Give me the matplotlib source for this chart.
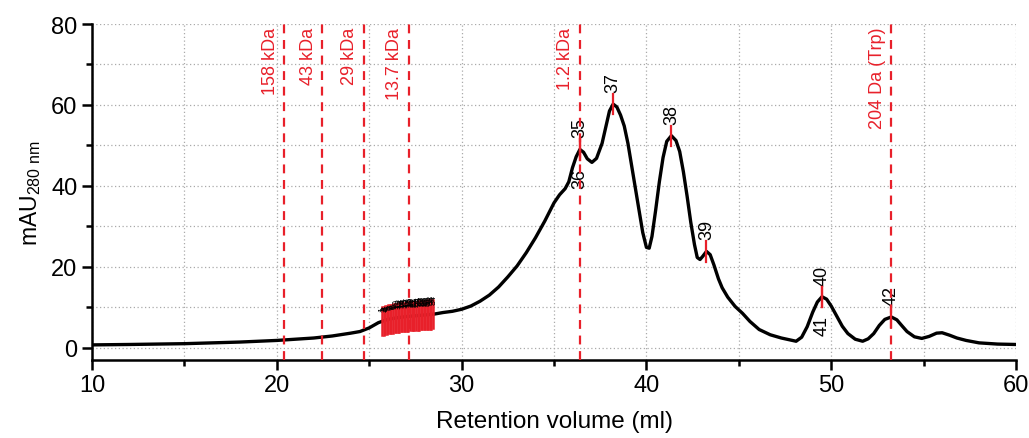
import numpy as np
import matplotlib
matplotlib.use('Agg')
import matplotlib.pyplot as plt
from matplotlib.ticker import MultipleLocator

plt.rcParams['font.family'] = ['Liberation Sans', 'DejaVu Sans']

# Cromatograma (volumen de retencion, absorbancia)
volumen = [10, 12, 15, 18, 20, 22, 23, 24, 24.5, 25, 25.5, 26, 26.5, 27, 27.5, 28, 28.5, 29, 29.5,
           30, 30.5, 31, 31.5, 32, 32.5, 33, 33.5, 34, 34.5, 35, 35.3, 35.6, 35.8, 36.0, 36.2, 36.4,
           36.6, 36.8, 37.05, 37.3, 37.6, 37.8, 38.0, 38.2, 38.4, 38.6, 38.8, 39.0, 39.2, 39.4, 39.6,
           39.8, 40.0, 40.15, 40.3, 40.5, 40.7, 40.9, 41.1, 41.35, 41.6, 41.8, 42.0, 42.2, 42.4, 42.6,
           42.75, 42.9, 43.05, 43.25, 43.45, 43.65, 43.9, 44.1, 44.4, 44.8, 45.2, 45.6, 46.1, 46.7,
           47.3, 47.8, 48.1, 48.4, 48.7, 49.0, 49.25, 49.5, 49.75, 50.0, 50.3, 50.6, 50.9, 51.3, 51.7,
           52.0, 52.3, 52.6, 52.9, 53.25, 53.55, 53.85, 54.1, 54.5, 54.9, 55.3, 55.7, 56.0, 56.4,
           56.8, 57.3, 58, 59, 60]
absorbancia = [0.7, 0.8, 1.0, 1.4, 1.8, 2.4, 2.9, 3.6, 4.0, 4.9, 6.2, 7.0, 7.4, 7.7, 7.9, 8.1, 8.3,
               8.7, 9.0, 9.5, 10.3, 11.5, 13.0, 15.0, 17.5, 20.2, 23.5, 27.2, 31.3, 35.8, 37.8, 39.3,
               41.0, 44.5, 47.2, 49.0, 48.3, 46.7, 45.8, 46.8, 50.5, 54.5, 58.5, 60.2, 59.5, 57.5,
               54.8, 50.5, 45.0, 39.5, 34.0, 28.5, 24.8, 24.6, 27.5, 34.0, 41.0, 47.0, 51.0, 52.4,
               51.2, 48.5, 43.5, 37.5, 31.0, 25.5, 22.3, 21.8, 22.6, 23.8, 23.0, 20.5, 17.0, 14.8,
               12.5, 10.2, 8.5, 6.5, 4.5, 3.2, 2.4, 1.9, 1.6, 2.6, 5.2, 8.8, 11.3, 12.6, 12.0, 10.3,
               7.8, 5.3, 3.5, 2.1, 1.6, 2.2, 3.5, 5.5, 7.0, 7.6, 6.9, 5.3, 4.0, 2.7, 2.3, 2.8, 3.6,
               3.7, 3.1, 2.4, 1.8, 1.2, 0.9, 0.8]

# Marcadores de peso molecular
marcadores = ['158 kDa', '43 kDa', '29 kDa', '13.7 kDa', '1.2 kDa', '204 Da (Trp)']
pos_marcadores = [20.4, 22.45, 24.72, 27.15, 36.4, 53.24]

# Fracciones 1-34 (zona densa)
fracciones = [str(i) for i in range(1, 35)]
pos_fracciones = [25.70, 25.79, 25.87, 25.95, 26.04, 26.12, 26.20, 26.29, 26.37, 26.45, 26.54,
                  26.62, 26.70, 26.79, 26.87, 26.95, 27.04, 27.12, 27.20, 27.29, 27.37, 27.45,
                  27.54, 27.62, 27.70, 27.79, 27.87, 27.95, 28.04, 28.12, 28.20, 28.29, 28.37, 28.45]

# Fracciones de los picos (etiqueta arriba / abajo)
picos = ['35', '36', '37', '38', '39', '40', '41', '42']
pos_picos = [36.4, 36.4, 38.2, 41.35, 43.25, 49.5, 49.5, 53.25]
arriba = [True, False, True, True, True, True, False, True]

fig = plt.figure(figsize=(10.29, 4.39), dpi=100)
ax = fig.add_axes([0.0894, 0.178, 0.898, 0.765])

ax.plot(volumen, absorbancia, color='black', lw=2.4, zorder=3, solid_joinstyle='round')

for nombre, x in zip(marcadores, pos_marcadores):
    ax.axvline(x, color='#e8202a', ls=(0, (4, 3)), lw=1.6, zorder=4)
    ax.text(x - 0.3, 79.3, nombre, rotation=90, ha='right', va='top', color='#e8202a', fontsize=13)

for nombre, x in zip(fracciones, pos_fracciones):
    yc = np.interp(x, volumen, absorbancia)
    ax.plot([x, x], [yc - 3.5, yc + 3.5], color='#e8202a', lw=1.8, zorder=4)
    ax.text(x, yc + 2.5, nombre, rotation=90, ha='center', va='bottom', fontsize=6.5, zorder=5)

for nombre, x, up in zip(picos, pos_picos, arriba):
    yc = np.interp(x, volumen, absorbancia)
    ax.plot([x, x], [yc - 2.5, yc + 2.5], color='#e8202a', lw=1.6, zorder=4)
    if up:
        ax.text(x, yc + 3, nombre, rotation=90, ha='center', va='bottom', fontsize=13)
    else:
        ax.text(x, yc - 4.5, nombre, rotation=90, ha='center', va='top', fontsize=13)

ax.set_xlim(10, 60)
ax.set_ylim(-3, 80)
ax.xaxis.set_major_locator(MultipleLocator(10))
ax.xaxis.set_minor_locator(MultipleLocator(5))
ax.yaxis.set_major_locator(MultipleLocator(20))
ax.yaxis.set_minor_locator(MultipleLocator(10))
ax.grid(True, which='both', color='#aaaaaa', ls=(0, (1, 2)), lw=0.9)
ax.set_axisbelow(True)

for s in ['top', 'right']:
    ax.spines[s].set_visible(False)
for s in ['left', 'bottom']:
    ax.spines[s].set_linewidth(1.8)
ax.tick_params(which='major', length=7, width=1.8, labelsize=17)
ax.tick_params(which='minor', length=4, width=1.8)

ax.set_xlabel('Retention volume (ml)', fontsize=17.5, labelpad=10)
ax.set_ylabel(r'mAU$_{\mathregular{280\ nm}}$', fontsize=16.5, labelpad=6)

fig.savefig('out.png', dpi=100)
